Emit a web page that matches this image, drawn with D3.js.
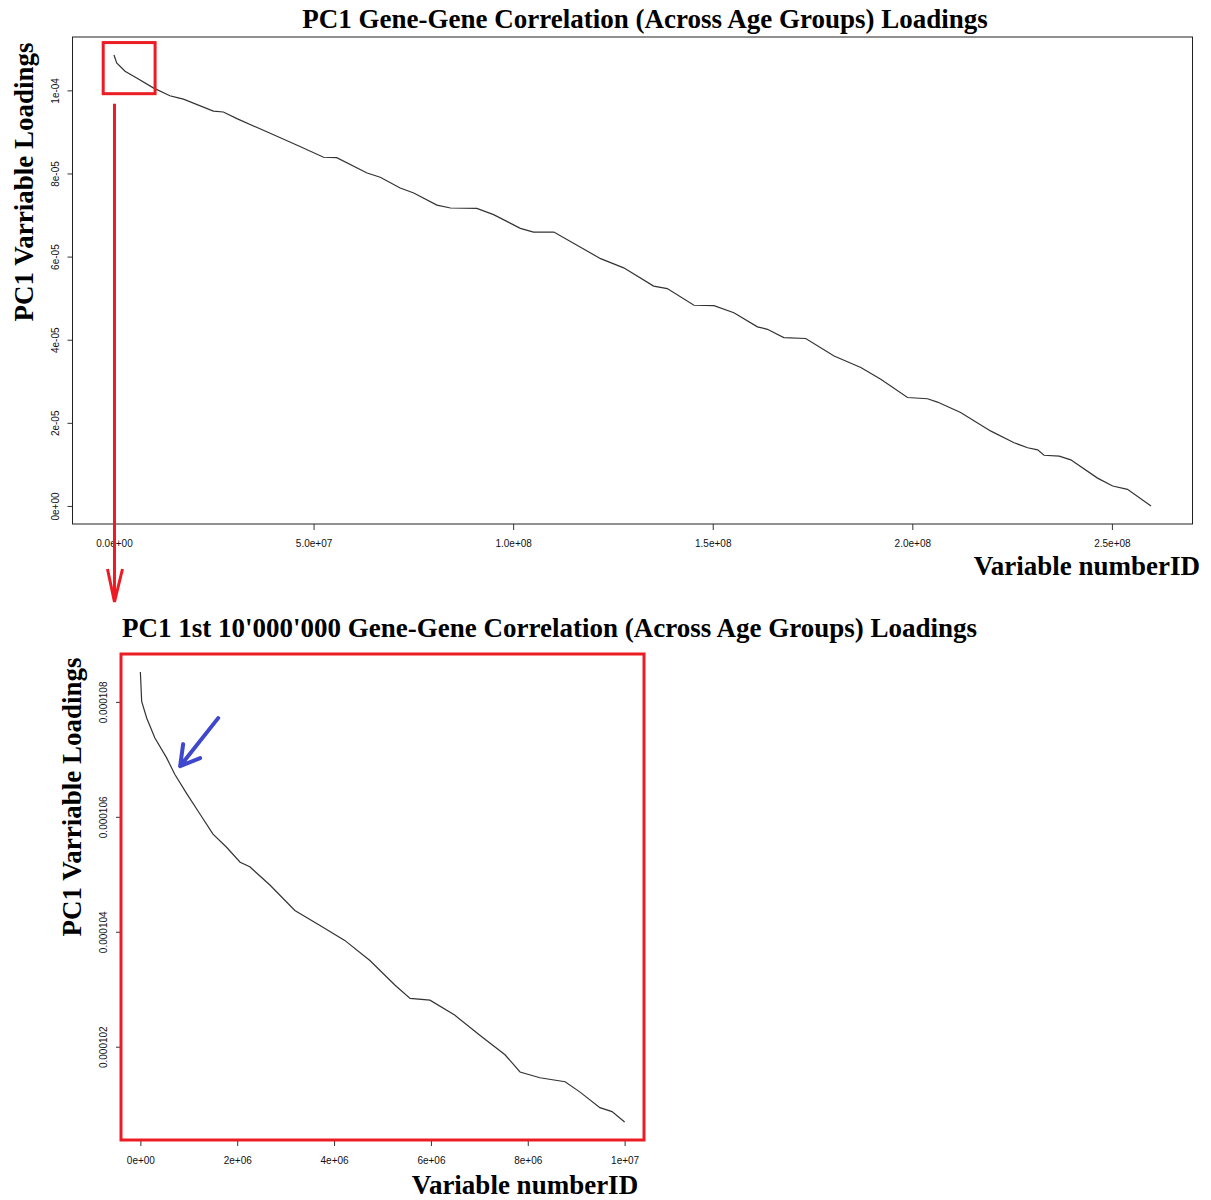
<!DOCTYPE html>
<html>
<head>
<meta charset="utf-8">
<script src="https://cdn.jsdelivr.net/npm/d3@7"></script>
<style>
  body { margin: 0; background: #fff; }
  .big { font-family: "Liberation Serif", "Times New Roman", serif; font-weight: bold; font-size: 27px; fill: #000; }
  .tick text { font-family: "Liberation Sans", Arial, sans-serif; font-size: 10px; fill: #111; }
  .tick line { stroke: #333; }
</style>
</head>
<body>
<svg id="chart" width="1211" height="1200"></svg>
<script>
// all loadings, sorted
var topIdx = [0, 0.68e6, 2.76e6, 5.69e6, 9.85e6, 14.0e6, 16.1e6, 17.4e6, 24.9e6, 27.4e6,
  30.8e6, 42.1e6, 46.6e6, 52.5e6, 55.8e6, 63.4e6, 66.7e6, 71.7e6, 75.1e6, 80.9e6,
  84.3e6, 90.9e6, 95.1e6, 101.8e6, 105.1e6, 110.2e6, 121.9e6, 127.7e6, 135.2e6, 138.6e6,
  145.3e6, 150.3e6, 155.3e6, 161.2e6, 163.7e6, 167.8e6, 173.3e6, 180.4e6, 187.1e6, 192.1e6,
  198.8e6, 203.8e6, 206.3e6, 212.1e6, 219.7e6, 225.5e6, 228.9e6, 231.4e6, 233.0e6, 236.8e6,
  239.7e6, 246.4e6, 250.2e6, 253.9e6, 259.8e6];
var topLoad = [10.85e-5, 10.66e-5, 10.46e-5, 10.30e-5, 10.06e-5, 9.87e-5, 9.82e-5, 9.79e-5, 9.50e-5, 9.48e-5,
  9.32e-5, 8.84e-5, 8.65e-5, 8.39e-5, 8.38e-5, 8.01e-5, 7.91e-5, 7.65e-5, 7.53e-5, 7.24e-5,
  7.17e-5, 7.16e-5, 7.01e-5, 6.68e-5, 6.59e-5, 6.59e-5, 5.95e-5, 5.73e-5, 5.29e-5, 5.23e-5,
  4.83e-5, 4.82e-5, 4.65e-5, 4.31e-5, 4.25e-5, 4.05e-5, 4.03e-5, 3.61e-5, 3.33e-5, 3.05e-5,
  2.61e-5, 2.58e-5, 2.50e-5, 2.25e-5, 1.80e-5, 1.52e-5, 1.40e-5, 1.35e-5, 1.22e-5, 1.20e-5,
  1.11e-5, 0.67e-5, 0.48e-5, 0.40e-5, 0];

// first 10'000'000 loadings
var zoomIdx = [0, 0.027e6, 0.13e6, 0.30e6, 0.54e6, 0.71e6, 0.96e6, 1.23e6, 1.50e6, 1.78e6,
  2.06e6, 2.26e6, 2.68e6, 3.19e6, 3.71e6, 4.22e6, 4.74e6, 5.26e6, 5.57e6, 5.98e6,
  6.49e6, 7.01e6, 7.53e6, 7.84e6, 8.25e6, 8.77e6, 9.08e6, 9.49e6, 9.74e6, 10.0e6];
var zoomLoad = [108.52e-6, 108.01e-6, 107.72e-6, 107.37e-6, 107.03e-6, 106.74e-6, 106.40e-6, 106.05e-6, 105.70e-6, 105.47e-6,
  105.21e-6, 105.13e-6, 104.81e-6, 104.37e-6, 104.11e-6, 103.85e-6, 103.50e-6, 103.07e-6, 102.84e-6, 102.81e-6,
  102.55e-6, 102.20e-6, 101.86e-6, 101.56e-6, 101.46e-6, 101.39e-6, 101.21e-6, 100.94e-6, 100.87e-6, 100.69e-6];

var topXTicks = [0, 5e7, 1e8, 1.5e8, 2e8, 2.5e8],
    topXLabels = ["0.0e+00", "5.0e+07", "1.0e+08", "1.5e+08", "2.0e+08", "2.5e+08"],
    topYTicks = [0, 2e-5, 4e-5, 6e-5, 8e-5, 1e-4],
    topYLabels = ["0e+00", "2e-05", "4e-05", "6e-05", "8e-05", "1e-04"];
var zoomXTicks = [0, 2e6, 4e6, 6e6, 8e6, 1e7],
    zoomXLabels = ["0e+00", "2e+06", "4e+06", "6e+06", "8e+06", "1e+07"],
    zoomYTicks = [0.000102, 0.000104, 0.000106, 0.000108],
    zoomYLabels = ["0.000102", "0.000104", "0.000106", "0.000108"];

var topTitle = "PC1 Gene-Gene Correlation (Across Age Groups) Loadings",
    zoomTitle = "PC1 1st 10'000'000 Gene-Gene Correlation (Across Age Groups) Loadings",
    yTitle = "PC1 Varriable Loadings",
    xTitle = "Variable numberID";

var svg = d3.select("#chart"),
    red = "#ec1c24",
    blue = "#3f48cc";

// R style axis range: data extent plus 4% each side
function rPad(vals) {
  var e = d3.extent(vals), p = (e[1] - e[0]) * 0.04;
  return [e[0] - p, e[1] + p];
}

function drawPanel(o) {
  var x = d3.scaleLinear().domain(rPad(o.xs)).range([o.left, o.right]),
      y = d3.scaleLinear().domain(rPad(o.ys)).range([o.bottom, o.top]);

  var line = d3.line()
      .x(function(d) { return x(d[0]); })
      .y(function(d) { return y(d[1]); });

  svg.append("path")
    .datum(d3.zip(o.xs, o.ys))
    .attr("fill", "none")
    .attr("stroke", "#333")
    .attr("stroke-width", 1.2)
    .attr("d", line);

  var gx = svg.append("g")
      .attr("transform", "translate(0," + o.bottom + ")")
      .call(d3.axisBottom(x).tickValues(o.xTicks).tickSize(6).tickPadding(o.xPad)
        .tickFormat(function(d, i) { return o.xLabels[i]; }));
  gx.select(".domain").remove();

  var gy = svg.append("g")
      .attr("transform", "translate(" + o.left + ",0)")
      .call(d3.axisLeft(y).tickValues(o.yTicks).tickSize(5)
        .tickFormat(function(d, i) { return o.yLabels[i]; }));
  gy.select(".domain").remove();
  gy.selectAll(".tick text")
    .attr("transform", "rotate(-90)")
    .attr("x", 0)
    .attr("y", -o.yPad)
    .attr("dy", 0)
    .attr("text-anchor", "middle");

  svg.append("rect")
    .attr("x", o.left).attr("y", o.top)
    .attr("width", o.right - o.left).attr("height", o.bottom - o.top)
    .attr("fill", "none")
    .attr("stroke", o.frame)
    .attr("stroke-width", o.frameWidth);

  return {x: x, y: y};
}

var top1 = drawPanel({
  xs: topIdx, ys: topLoad, left: 72.5, right: 1192.5, top: 37, bottom: 524,
  xTicks: topXTicks, xLabels: topXLabels, yTicks: topYTicks, yLabels: topYLabels,
  xPad: 10, yPad: 13.5, frame: "#222", frameWidth: 1
});

var zoom1 = drawPanel({
  xs: zoomIdx, ys: zoomLoad, left: 121, right: 644, top: 654, bottom: 1140,
  xTicks: zoomXTicks, xLabels: zoomXLabels, yTicks: zoomYTicks, yLabels: zoomYLabels,
  xPad: 11, yPad: 14, frame: red, frameWidth: 3
});

// titles
svg.append("text").attr("class", "big")
  .attr("x", 645).attr("y", 28).attr("text-anchor", "middle").text(topTitle);
svg.append("text").attr("class", "big")
  .attr("x", 122).attr("y", 637).text(zoomTitle);
svg.append("text").attr("class", "big")
  .attr("transform", "translate(33,182) rotate(-90)").attr("text-anchor", "middle").text(yTitle);
svg.append("text").attr("class", "big")
  .attr("transform", "translate(81,797) rotate(-90)").attr("text-anchor", "middle").text(yTitle);
svg.append("text").attr("class", "big")
  .attr("x", 1200).attr("y", 575).attr("text-anchor", "end").text(xTitle);
svg.append("text").attr("class", "big")
  .attr("x", 525).attr("y", 1194).attr("text-anchor", "middle").text(xTitle);

// red box around the first 10M in the top panel, and arrow down
var bx0 = top1.x(-2.7e6), bx1 = top1.x(1.03e7),
    by0 = top1.y(11.15e-5), by1 = top1.y(9.92e-5);
svg.append("rect")
  .attr("x", bx0).attr("y", by0)
  .attr("width", bx1 - bx0).attr("height", by1 - by0)
  .attr("fill", "none").attr("stroke", red).attr("stroke-width", 3);

var ax = top1.x(0) + 0.5, tipY = 602;
svg.append("path")
  .attr("d", "M" + ax + "," + (by1 + 10) + "V" + tipY +
             "M" + (ax - 7) + "," + (tipY - 33) + "L" + ax + "," + tipY + "L" + (ax + 8) + "," + (tipY - 33))
  .attr("fill", "none").attr("stroke", red).attr("stroke-width", 3);

// blue pointer on the bottom curve
var tx = zoom1.x(0.78e6) + 2, ty = zoom1.y(106.83e-6) - 3;
svg.append("path")
  .attr("d", "M" + (tx + 38) + "," + (ty - 48) + "L" + tx + "," + ty +
             "M" + (tx + 3) + "," + (ty - 22) + "L" + tx + "," + ty + "L" + (tx + 20) + "," + (ty - 8))
  .attr("fill", "none").attr("stroke", blue).attr("stroke-width", 4)
  .attr("stroke-linecap", "round").attr("stroke-linejoin", "round");
</script>
</body>
</html>
